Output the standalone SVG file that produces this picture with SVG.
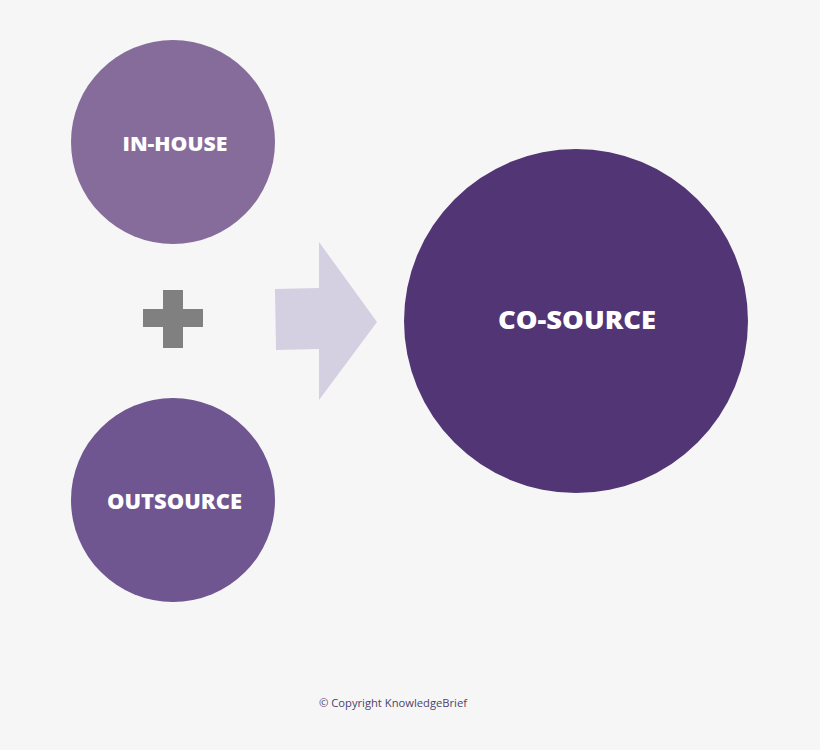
<svg xmlns="http://www.w3.org/2000/svg" width="820" height="750" viewBox="0 0 820 750">
<style>
.lbl{font-family:"Open Sans","Liberation Sans",sans-serif;font-weight:800;fill:#ffffff;text-anchor:middle}
.copy{font-family:"Open Sans","Liberation Sans",sans-serif;font-size:11.5px;fill:#4e3f6e}
</style>
<rect width="820" height="750" fill="#f6f6f6"/>
<g id="in-house">
<circle cx="173" cy="142" r="102" fill="#856c9b"/>
<text class="lbl" x="175" y="151" font-size="20" textLength="105" lengthAdjust="spacingAndGlyphs">IN-HOUSE</text>
</g>
<g id="plus">
<rect x="143" y="309" width="60" height="18" fill="#808080"/>
<rect x="163" y="290" width="20" height="58" fill="#808080"/>
</g>
<g id="outsource">
<circle cx="173" cy="500" r="102" fill="#6f5690"/>
<text class="lbl" x="174.5" y="509" font-size="21" textLength="135" lengthAdjust="spacingAndGlyphs">OUTSOURCE</text>
</g>
<g id="connectors">
<polygon points="275,289 319,288 319,242 377,322 319,400 319,349 276,350" fill="#d5cfe2"/>
</g>
<g id="co-source">
<circle cx="576" cy="321" r="172" fill="#523575"/>
<text class="lbl" x="577" y="329" font-size="25" textLength="158" lengthAdjust="spacingAndGlyphs">CO-SOURCE</text>
</g>
<text class="copy" x="319" y="707" textLength="148" lengthAdjust="spacingAndGlyphs">© Copyright KnowledgeBrief</text>
</svg>
